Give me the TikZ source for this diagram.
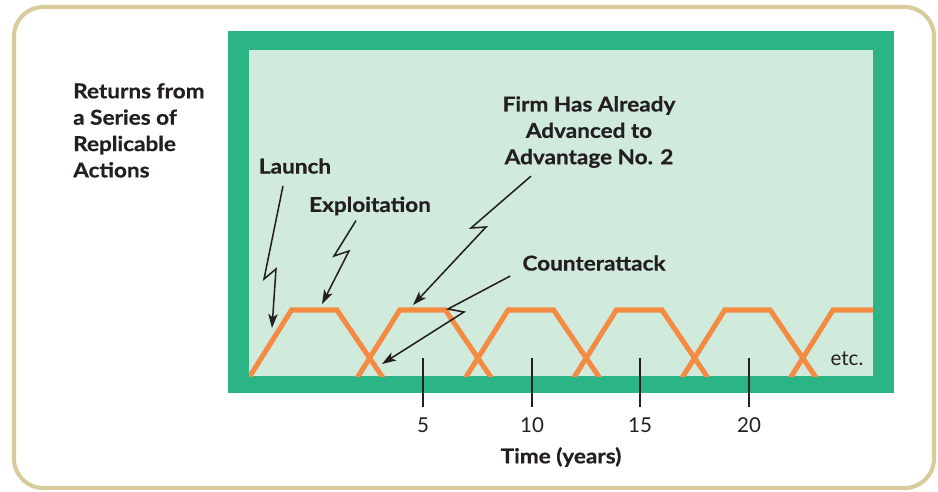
\documentclass[tikz,border=0pt]{standalone}
\usepackage{fontspec}
\setmainfont{Lato}
\newfontfamily\labelfont{Lato}[FakeStretch=1.1, FakeBold=0.6]
\usetikzlibrary{arrows.meta}
\definecolor{frame}{HTML}{2BB586}
\definecolor{panel}{HTML}{D0EADB}
\definecolor{curve}{HTML}{F58A42}
\definecolor{rim}{HTML}{D8CB9C}
\definecolor{ink}{HTML}{231F20}

\begin{document}
\begin{tikzpicture}[x=0.03cm, y=-0.03cm,
    lbl/.style={font=\labelfont\fontsize{17.5}{22.5}\selectfont\bfseries, text=ink, inner sep=0pt},
    num/.style={font=\fontsize{17.5}{20}\selectfont, text=ink, inner sep=0pt},
    zap/.style={draw=ink, line width=1.3pt, line join=miter, -{Stealth[length=12pt, width=8pt, inset=3pt]}},
    tick/.style={draw=ink, line width=1.3pt},
    wave/.style={draw=curve, line width=4.3pt, line join=miter}]
    \useasboundingbox (0,0) rectangle (938,491);

    % card and frame
    \draw[rim, line width=3.5pt, rounded corners=25pt] (14,7) rectangle (934,488);
    \fill[frame] (228,31) rectangle (894,393);
    \fill[panel] (249,50) rectangle (873,376);

    % returns
    \begin{scope}
        \clip (249,50) rectangle (873,376);
        \foreach \k in {0,...,5}
            \draw[wave] ({247.5+108.3*\k},380) -- ({291.5+108.3*\k},310)
                -- ({337+108.3*\k},310) -- ({384.5+108.3*\k},380);
    \end{scope}

    % time axis
    \foreach \x/\n in {423/5, 532/10, 640/15, 749/20} {
        \draw[tick] (\x,358) -- (\x,407);
        \node[num] (t\n) at (\x,425) {\n};
    }
    \node[lbl] (axis) at (561,457) {Time (years)};
    \node[num] (etc) at (847,359) {etc.};

    % labels
    \node[lbl, align=left, anchor=north west] (returns) at (73,83)
        {Returns from\\a Series of\\Replicable\\Actions};
    \node[lbl] (launch) at (295,166) {Launch};
    \node[lbl] (exploit) at (370,206) {Exploitation};
    \node[lbl, align=center, anchor=north] (firm) at (589,96)
        {Firm Has Already\\Advanced to\\Advantage No. 2};
    \node[lbl] (counter) at (594,263) {Counterattack};

    \coordinate (launchtip) at (272,328);
    \coordinate (exploittip) at (322,304);
    \coordinate (firmtip) at (413,305);
    \coordinate (countertip) at (382,364);

    \draw[zap] (launch.south) ++(-12,12) -- (264,279) -- (276,269) -- (launchtip);
    \draw[zap] (exploit.south) ++(-14,5) -- (334,256) -- (349,251) -- (exploittip);
    \draw[zap] (firm.south) ++(-58,8) -- (471,228) -- (486,227) -- (firmtip);
    \draw[zap] (counter.west) ++(-12,13) -- (448,309) -- (464,312) -- (countertip);
\end{tikzpicture}
\end{document}
